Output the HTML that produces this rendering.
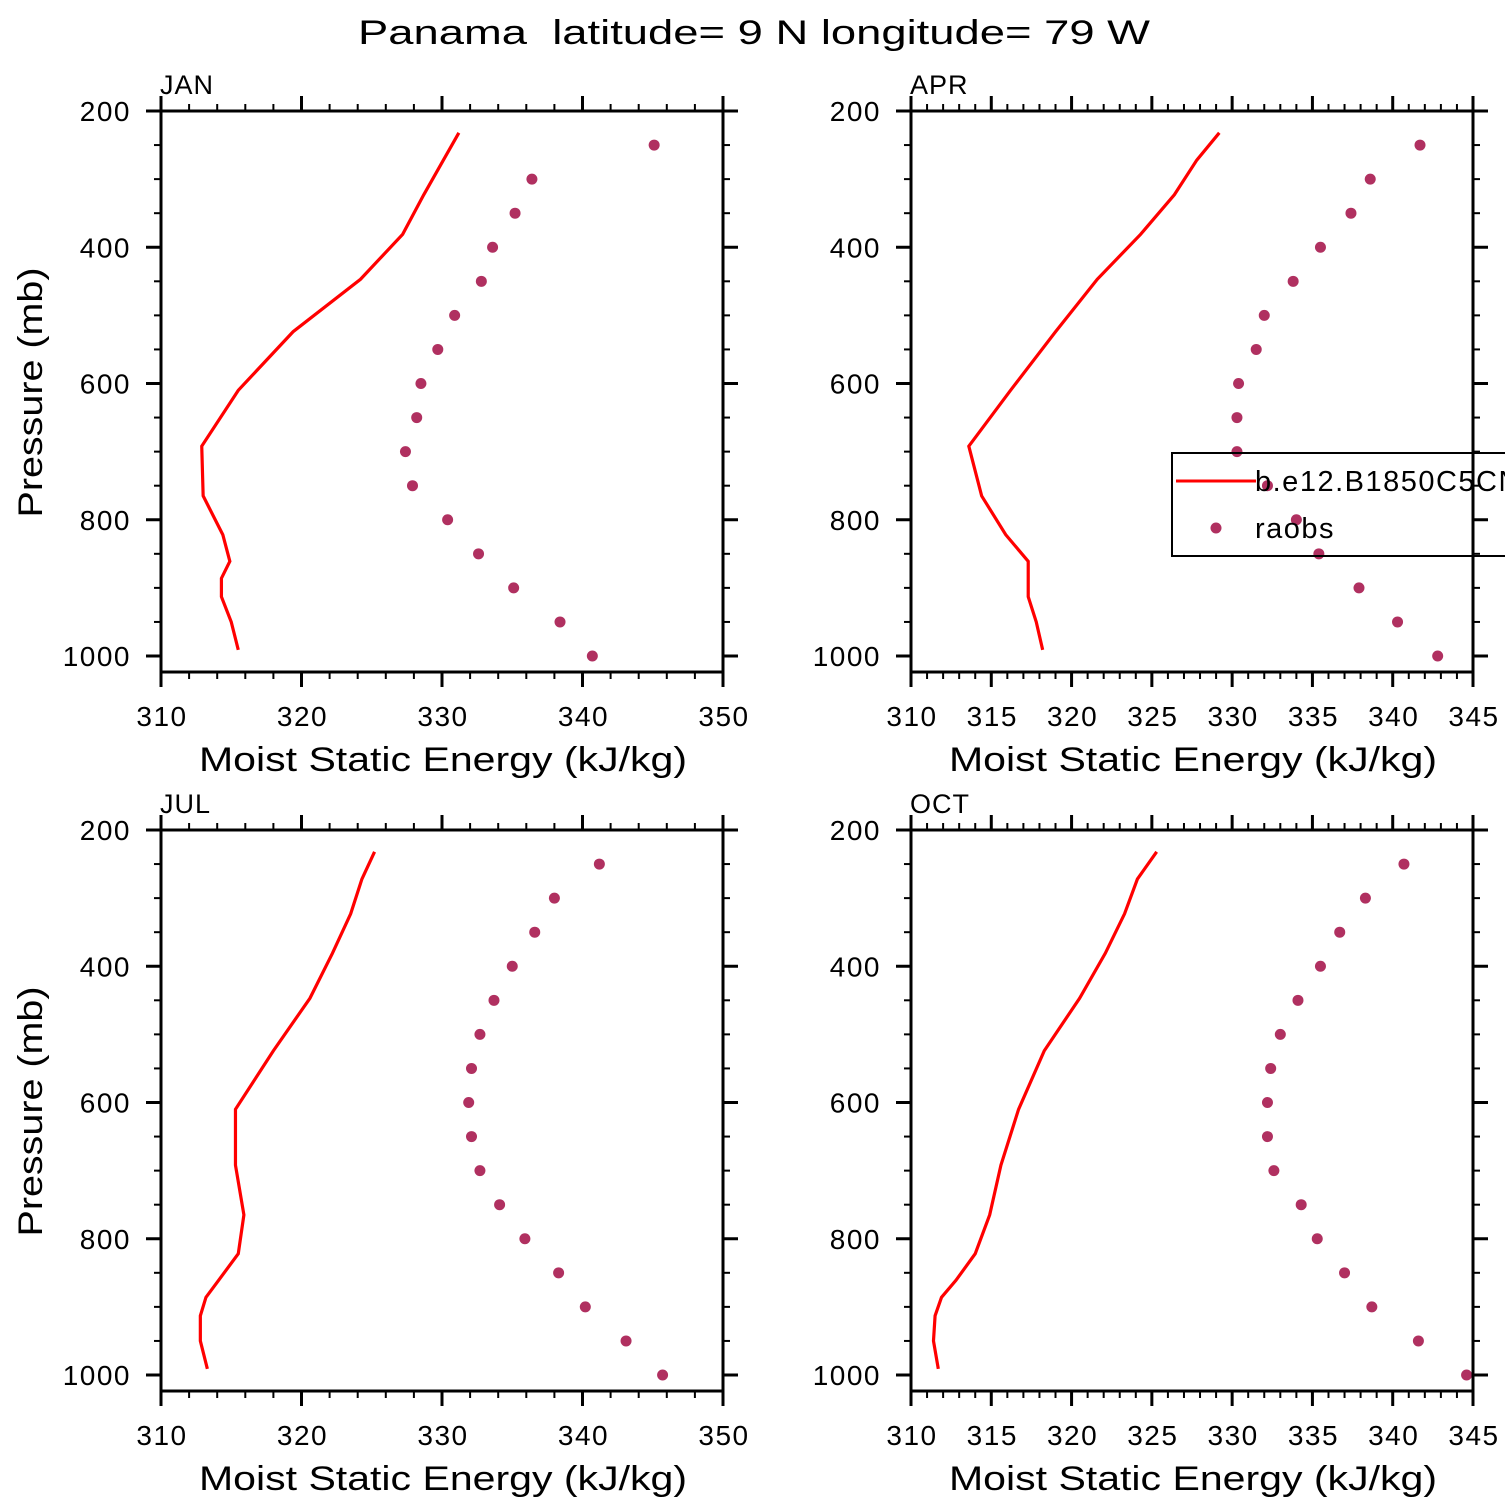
<!DOCTYPE html>
<html><head><meta charset="utf-8"><style>
body{margin:0;background:#fff}
svg{display:block}
text{font-family:"Liberation Sans",sans-serif;fill:#000}
</style></head><body>
<svg id="chart" width="1510" height="1510" viewBox="0 0 1510 1510" xmlns="http://www.w3.org/2000/svg">
<text x="358" y="44" font-size="34" textLength="792" lengthAdjust="spacingAndGlyphs" xml:space="preserve">Panama  latitude= 9 N longitude= 79 W</text>
</svg>
<script>
const modelP=[232,272,323,381,447,524,610,692,765,822,861,886,913,950,991];
const obsP=[250,300,350,400,450,500,550,600,650,700,750,800,850,900,950,1000];
const janModel=[331.2,330.1,328.7,327.2,324.2,319.4,315.5,312.9,313.0,314.4,314.9,314.3,314.3,315.0,315.5];
const aprModel=[329.2,327.8,326.4,324.3,321.6,319.0,316.2,313.6,314.4,315.9,317.3,317.3,317.3,317.8,318.2];
const julModel=[325.2,324.3,323.5,322.2,320.6,318.0,315.3,315.3,315.9,315.5,314.1,313.2,312.8,312.8,313.3];
const octModel=[325.3,324.1,323.3,322.1,320.5,318.3,316.7,315.6,314.9,314.0,312.8,311.9,311.5,311.4,311.7];
const janObs=[345.1,336.4,335.2,333.6,332.8,330.9,329.7,328.5,328.2,327.4,327.9,330.4,332.6,335.1,338.4,340.7];
const aprObs=[341.7,338.6,337.4,335.5,333.8,332.0,331.5,330.4,330.3,330.3,332.2,334.0,335.4,337.9,340.3,342.8];
const julObs=[341.2,338.0,336.6,335.0,333.7,332.7,332.1,331.9,332.1,332.7,334.1,335.9,338.3,340.2,343.1,345.7];
const octObs=[340.7,338.3,336.7,335.5,334.1,333.0,332.4,332.2,332.2,332.6,334.3,335.3,337.0,338.7,341.6,344.6];
const yTicks=[200,400,600,800,1000];
const xTicksA=[310,320,330,340,350];
const xTicksB=[310,315,320,325,330,335,340,345];

const NS='http://www.w3.org/2000/svg';
const svg=document.getElementById('chart');
function mk(tag,attrs,parent){const e=document.createElementNS(NS,tag);for(const k in attrs)e.setAttribute(k,attrs[k]);(parent||svg).appendChild(e);return e;}

const defs=mk('defs',{});
const cp=mk('clipPath',{id:'clipR'},defs);
mk('rect',{x:0,y:0,width:1505,height:1510},cp);

const panels=[
 {name:'jan',label:'JAN',x0:161,y0:111,xmin:310,xmax:350,ticks:xTicksA,minor:2,model:janModel,obs:janObs,ytitle:true},
 {name:'apr',label:'APR',x0:911,y0:111,xmin:310,xmax:345,ticks:xTicksB,minor:1,model:aprModel,obs:aprObs,ytitle:false,legend:true},
 {name:'jul',label:'JUL',x0:161,y0:830,xmin:310,xmax:350,ticks:xTicksA,minor:2,model:julModel,obs:julObs,ytitle:true},
 {name:'oct',label:'OCT',x0:911,y0:830,xmin:310,xmax:345,ticks:xTicksB,minor:1,model:octModel,obs:octObs,ytitle:false}
];
const W=562, PS=0.68125, PMAX=1023.5;
panels.forEach(p=>{
 const g=mk('g',{});
 
 
 const xs=v=>p.x0+(v-p.xmin)*W/(p.xmax-p.xmin);
 const ys=pr=>p.y0+(pr-200)*PS;
 const yb=ys(PMAX);
 const t=mk('text',{x:p.x0-1,y:p.y0-17,'font-size':27,'letter-spacing':1},g);t.textContent=p.label;
 
 
 const pl=mk('polyline',{points:p.model.map((v,i)=>xs(v)+','+ys(modelP[i])).join(' '),fill:'none',stroke:'#ff0000','stroke-width':3.2},g);
 
 
 p.obs.forEach((v,i)=>{
  const c=mk('circle',{cx:xs(v),cy:ys(obsP[i]),r:5.5,fill:'#b03060'},g);
  
  
 });
 const r=mk('rect',{x:p.x0,y:p.y0,width:W,height:yb-p.y0,fill:'none',stroke:'#000','stroke-width':3},g);
 
 
 for(let pr=250;pr<=1000;pr+=50){
  const maj=pr%200===0, L=maj?15:7, y=ys(pr);
  mk('line',{x1:p.x0-L,y1:y,x2:p.x0,y2:y,stroke:'#000','stroke-width':maj?3:2},g);
  mk('line',{x1:p.x0+W,y1:y,x2:p.x0+W+L,y2:y,stroke:'#000','stroke-width':maj?3:2},g);
 }
 mk('line',{x1:p.x0-15,y1:p.y0,x2:p.x0,y2:p.y0,stroke:'#000','stroke-width':3},g);
 mk('line',{x1:p.x0+W,y1:p.y0,x2:p.x0+W+15,y2:p.y0,stroke:'#000','stroke-width':3},g);
 yTicks.forEach(pr=>{
  const tt=mk('text',{x:p.x0-30,y:ys(pr)+10,'font-size':28,'text-anchor':'end','letter-spacing':1.5},g);tt.textContent=pr;
  
  
 });
 for(let v=p.xmin;v<=p.xmax+1e-6;v+=p.minor){
  const maj=p.ticks.includes(v), L=maj?15:7, x=xs(v);
  mk('line',{x1:x,y1:yb,x2:x,y2:yb+L,stroke:'#000','stroke-width':maj?3:2},g);
  mk('line',{x1:x,y1:p.y0-L,x2:x,y2:p.y0,stroke:'#000','stroke-width':maj?3:2},g);
 }
 p.ticks.forEach(v=>{
  const tt=mk('text',{x:xs(v)+1,y:yb+54,'font-size':28,'text-anchor':'middle','letter-spacing':1.5},g);tt.textContent=v;
  
  
 });
 const xt=mk('text',{x:p.x0+38,y:yb+99,'font-size':34,textLength:488,lengthAdjust:'spacingAndGlyphs'},g);xt.textContent='Moist Static Energy (kJ/kg)';
 
 
 if(p.ytitle){
  const cy=p.y0+(yb-p.y0)/2+1;
  const yt=mk('text',{x:-125,y:0,'font-size':34,textLength:250,lengthAdjust:'spacingAndGlyphs',transform:'translate(42,'+cy+') rotate(-90)'},g);yt.textContent='Pressure (mb)';
  
  
 }
 if(p.legend){
  const lg=mk('g',{'clip-path':'url(#clipR)'},g);
  
  
  mk('rect',{x:1172,y:453,width:350,height:103,fill:'none',stroke:'#000','stroke-width':2},lg);
  mk('line',{x1:1176,y1:481,x2:1256,y2:481,stroke:'#ff0000','stroke-width':3},lg);
  const l1=mk('text',{x:1255,y:491,'font-size':29,'letter-spacing':1.5},lg);l1.textContent='b.e12.B1850C5CN';
  
  
  mk('circle',{cx:1216,cy:528,r:5.5,fill:'#b03060'},lg);
  const l2=mk('text',{x:1255,y:538,'font-size':29,'letter-spacing':1.5},lg);l2.textContent='raobs';
  
  
 }
});
</script>
</body></html>
